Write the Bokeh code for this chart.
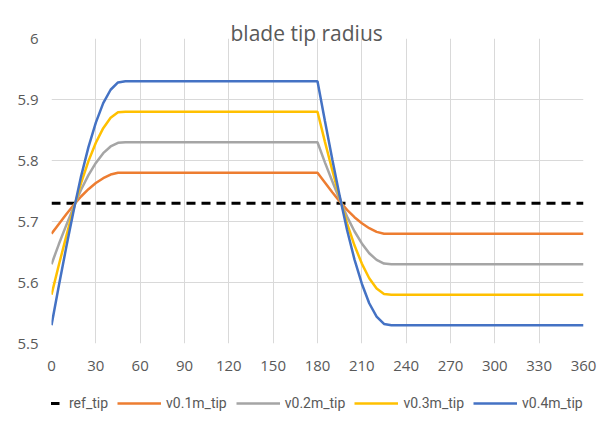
from bokeh.plotting import figure
from bokeh.layouts import column
from bokeh.models import ColumnDataSource, Legend, LegendItem, FixedTicker, Range1d
from bokeh.embed import file_html
from bokeh.resources import INLINE

# ---- data ----
angle = [0, 5, 10, 15, 20, 25, 30, 35, 40, 45, 50,
         180, 185, 190, 195, 200, 205, 210, 215, 220, 225, 230, 360]

ref_tip = [5.73] * len(angle)

v01m_tip = [5.680, 5.696, 5.712, 5.727, 5.741, 5.753, 5.763, 5.771, 5.777, 5.780, 5.780,
            5.780, 5.764, 5.748, 5.733, 5.719, 5.707, 5.697, 5.689, 5.683, 5.680, 5.680, 5.680]
v02m_tip = [5.630, 5.663, 5.694, 5.724, 5.752, 5.776, 5.796, 5.812, 5.823, 5.829, 5.830,
            5.830, 5.797, 5.766, 5.736, 5.708, 5.684, 5.664, 5.648, 5.637, 5.631, 5.630, 5.630]
v03m_tip = [5.580, 5.629, 5.676, 5.721, 5.763, 5.799, 5.829, 5.853, 5.870, 5.879, 5.880,
            5.880, 5.831, 5.784, 5.739, 5.697, 5.661, 5.631, 5.607, 5.590, 5.581, 5.580, 5.580]
v04m_tip = [5.530, 5.595, 5.658, 5.718, 5.774, 5.822, 5.862, 5.894, 5.916, 5.928, 5.930,
            5.930, 5.865, 5.802, 5.742, 5.686, 5.638, 5.598, 5.566, 5.544, 5.532, 5.530, 5.530]

series_names = ["v0.1m_tip", "v0.2m_tip", "v0.3m_tip", "v0.4m_tip"]
series_colors = ["#ED7D31", "#A5A5A5", "#FFC000", "#4472C4"]

x_ticks = [0, 30, 60, 90, 120, 150, 180, 210, 240, 270, 300, 330, 360]
y_ticks = [5.5, 5.6, 5.7, 5.8, 5.9, 6.0]

FONT = "Open Sans"
TXT = "#595959"

p = figure(width=609, height=376, output_backend="svg", toolbar_location=None,
           x_range=Range1d(0, 360), y_range=Range1d(5.5, 6.0),
           min_border_left=51, min_border_right=26, min_border_top=38, min_border_bottom=33,
           title="blade tip radius")
p.outline_line_color = None
p.background_fill_color = "white"
p.border_fill_color = "white"

p.title.align = "left"
p.title.text_font = FONT
p.title.text_font_size = "21px"
p.title.text_font_style = "normal"
p.title.text_color = TXT
p.title.standoff = -17
p.title.offset = 179

src = ColumnDataSource(dict(x=angle, ref=ref_tip, s0=v01m_tip, s1=v02m_tip, s2=v03m_tip, s3=v04m_tip))

p.line("x", "ref", source=src, line_color="black", line_width=3, line_dash="9 6")
for i, col in enumerate(series_colors):
    p.line("x", f"s{i}", source=src, line_color=col, line_width=2.5)

# axes
p.xaxis.ticker = FixedTicker(ticks=x_ticks)
p.yaxis.ticker = FixedTicker(ticks=y_ticks)
p.yaxis.major_label_overrides = {6: "6"}
for ax in (p.xaxis[0], p.yaxis[0]):
    ax.axis_line_color = None
    ax.major_tick_line_color = None
    ax.minor_tick_line_color = None
    ax.major_tick_out = 0
    ax.major_tick_in = 0
    ax.major_label_text_font = FONT
    ax.major_label_text_font_size = "15px"
    ax.major_label_text_color = TXT
p.xaxis.major_label_standoff = 17
p.yaxis.major_label_standoff = 13

p.xgrid.grid_line_color = "#D9D9D9"
p.ygrid.grid_line_color = "#D9D9D9"

# legend strip (own small figure so the legend may be wider than the plot frame)
p2 = figure(width=609, height=39, output_backend="svg", toolbar_location=None,
            x_range=Range1d(1000, 1001), y_range=Range1d(1000, 1001),
            min_border_left=0, min_border_right=0, min_border_top=0, min_border_bottom=0,
            x_axis_location=None, y_axis_location=None)
p2.outline_line_color = None
p2.grid.visible = False

items = []
r = p2.line("x", "ref", source=src, line_color="black", line_width=3, line_dash="9 6")
items.append(LegendItem(label="ref_tip", renderers=[r]))
for i, (name, col) in enumerate(zip(series_names, series_colors)):
    r = p2.line("x", f"s{i}", source=src, line_color=col, line_width=2.5)
    items.append(LegendItem(label=name, renderers=[r]))

legend = Legend(items=items, orientation="horizontal", location=(-31, 2),
                glyph_width=44, glyph_height=20, label_standoff=5, spacing=9,
                padding=0, margin=0, border_line_color=None, background_fill_alpha=0,
                label_text_font="Roboto", label_text_font_size="14px", label_text_color=TXT)
p2.add_layout(legend, "center")

layout = column(p, p2, spacing=0)
open("out.html", "w").write(file_html(layout, INLINE))
